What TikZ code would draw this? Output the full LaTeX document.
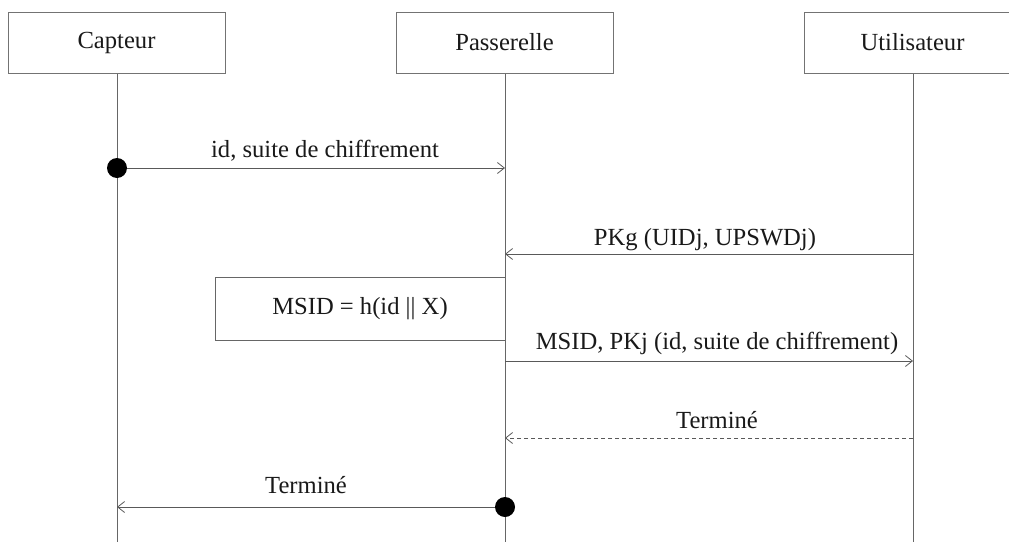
\documentclass[tikz,border=0pt]{standalone}
\usepackage{fontspec}
\setmainfont{Liberation Serif}
\usetikzlibrary{arrows.meta}
\begin{document}
\begin{tikzpicture}[x=1pt,y=-1pt,
  every node/.style={font=\fontsize{24.6}{28}\selectfont, text=black!90},
  head/.style={draw=black!55, line width=1pt, minimum width=217pt, minimum height=61pt, inner sep=0pt},
  life/.style={draw=black!60, line width=1pt},
  msg/.style={draw=black!65, line width=1pt, -{Straight Barb[length=7pt,width=11pt,line width=0.8pt]}},
  reply/.style={msg, dashed, dash pattern=on 4pt off 3pt},
  dotmark/.style={circle, fill=black, minimum size=20pt, inner sep=0pt},
  lbl/.style={inner sep=0pt, anchor=base}]
\useasboundingbox (0,0) rectangle (1009,541);
% heads
\node[head] (cap) at (116.5,42.5) {Capteur};
\node[head] (pas) at (504.5,42.5) {Passerelle};
\node[head] (uti) at (912.5,42.5) {Utilisateur};
% lifeline ends
\coordinate (capE) at (117,545);
\coordinate (pasE) at (505,545);
\coordinate (utiE) at (913,545);
\draw[life] (cap.south -| capE) -- (capE);
\draw[life] (pas.south -| pasE) -- (pasE);
\draw[life] (uti.south -| utiE) -- (utiE);
% message points
\coordinate (m1a) at (117,168); \coordinate (m1b) at (505,168);
\coordinate (m2a) at (913,254); \coordinate (m2b) at (505,254);
\coordinate (m4a) at (505,361); \coordinate (m4b) at (913,361);
\coordinate (m5a) at (913,438); \coordinate (m5b) at (505,438);
\coordinate (m6a) at (505,507); \coordinate (m6b) at (117,507);
% MSID box
\coordinate (bxa) at (505,277); \coordinate (bxb) at (215,277);
\coordinate (bxc) at (215,340); \coordinate (bxd) at (505,340);
\draw[draw=black!60, line width=1pt] (bxa) -- (bxb) -- (bxc) -- (bxd);
\node (msid) at (360,309) {MSID = h(id || X)};
% messages
\draw[msg] (m1a) -- (m1b);
\node[lbl] (l1) at (325,157) {id, suite de chiffrement};
\node[dotmark] (d1) at (m1a) {};
\draw[msg] (m2a) -- (m2b);
\node[lbl] (l2) at (705,245) {PKg (UIDj, UPSWDj)};
\draw[msg] (m4a) -- (m4b);
\node[lbl] (l4) at (717,349) {MSID, PKj (id, suite de chiffrement)};
\draw[reply] (m5a) -- (m5b);
\node[lbl] (l5) at (717,428) {Terminé};
\draw[msg] (m6a) -- (m6b);
\node[lbl] (l6) at (306,493) {Terminé};
\node[dotmark] (d6) at (m6a) {};
\end{tikzpicture}
\end{document}
